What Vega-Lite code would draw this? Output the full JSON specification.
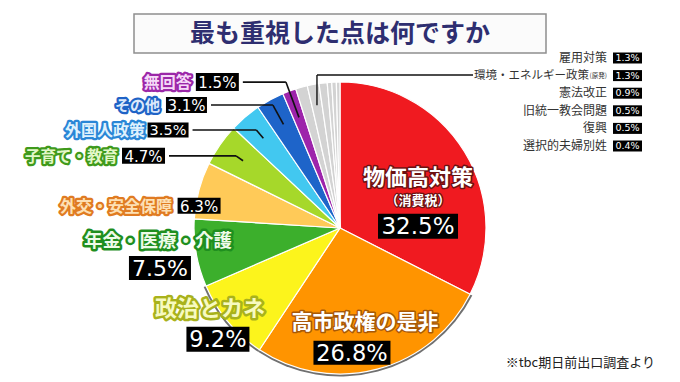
{
  "$schema": "https://vega.github.io/schema/vega-lite/v6.json",
  "background": "#ffffff",
  "padding": {"top": 13, "left": 0, "right": 0, "bottom": 0},
  "config": {"view": {"stroke": null}, "font": "Noto Sans CJK JP"},
  "spacing": 20,
  "bounds": "flush",
  "center": true,
  "vconcat": [
    {
      "width": 412,
      "height": 39,
      "view": {"fill": "#fbfbfb", "stroke": "#8f8f8f", "strokeWidth": 1.5},
      "data": {"values": [{"t": "最も重視した点は何ですか"}]},
      "mark": {"type": "text", "font": "Noto Sans CJK JP", "fontWeight": "bold", "fontSize": 25, "fill": "#2e2e70"},
      "encoding": {"text": {"field": "t", "type": "nominal"}}
    },
    {
      "width": 680,
      "height": 310,
      "data": {"values": [
        {"ord": 1, "name": "物価高対策", "sub": "（消費税）", "pct": 32.5},
        {"ord": 2, "name": "高市政権の是非", "pct": 26.8},
        {"ord": 3, "name": "政治とカネ", "pct": 9.2},
        {"ord": 4, "name": "年金・医療・介護", "pct": 7.5},
        {"ord": 5, "name": "外交・安全保障", "pct": 6.3},
        {"ord": 6, "name": "子育て・教育", "pct": 4.7},
        {"ord": 7, "name": "外国人政策", "pct": 3.5},
        {"ord": 8, "name": "その他", "pct": 3.1},
        {"ord": 9, "name": "無回答", "pct": 1.5},
        {"ord": 10, "name": "雇用対策", "pct": 1.3},
        {"ord": 11, "name": "環境・エネルギー政策", "note": "(原発)", "pct": 1.3},
        {"ord": 12, "name": "憲法改正", "pct": 0.9},
        {"ord": 13, "name": "旧統一教会問題", "pct": 0.5},
        {"ord": 14, "name": "復興", "pct": 0.5},
        {"ord": 15, "name": "選択的夫婦別姓", "pct": 0.4, "source": "※tbc期日前出口調査より"}
      ]},
      "transform": [
        {"window": [{"op": "sum", "field": "pct", "as": "cum"}], "sort": [{"field": "ord", "order": "ascending"}], "frame": [null, 0]},
        {"calculate": "format(datum.pct, '.1f') + '%'", "as": "pctLabel"},
        {"calculate": "2 * PI * (datum.cum - datum.pct / 2) / 100", "as": "mid"},
        {"calculate": "datum.ord <= 9 ? [91.5, 98, 165, 165, 165, 165, 165, 165, 165][datum.ord - 1] : 0", "as": "br"},
        {"calculate": "datum.ord <= 9 ? datum.br * sin(datum.mid) + [0, -13, 4.4, -17.5, 18.5, -60.9, -64.8, -74.5, -65.3][datum.ord - 1] : 0", "as": "bx"},
        {"calculate": "datum.ord <= 9 ? -datum.br * cos(datum.mid) + [47, 31, 6.4, 12.6, 21.4, 22.9, 28.5, 22.9, 9.8][datum.ord - 1] - 1 : 0", "as": "by"},
        {"calculate": "datum.ord <= 9 ? [80, 77, 63, 62, 43, 43, 41, 41, 43][datum.ord - 1] : 0", "as": "bw"},
        {"calculate": "datum.ord <= 9 ? [25, 24, 25, 24, 16, 16, 15, 16, 18][datum.ord - 1] : 0", "as": "bh"},
        {"calculate": "datum.bx - datum.bw / 2", "as": "bx1"},
        {"calculate": "datum.bx + datum.bw / 2", "as": "bx2"},
        {"calculate": "datum.by - datum.bh / 2", "as": "by1"},
        {"calculate": "datum.by + datum.bh / 2", "as": "by2"},
        {"calculate": "118 * sin(datum.mid)", "as": "ex"},
        {"calculate": "-118 * cos(datum.mid)", "as": "ey"},
        {"calculate": "datum.ex + (datum.by - datum.ey) / (-cos(datum.mid)) * sin(datum.mid)", "as": "elx"},
        {"calculate": "datum.bx2 + 4", "as": "hx"},
        {"calculate": "125 * sin(datum.mid)", "as": "gx"},
        {"calculate": "-125 * cos(datum.mid)", "as": "gy"}
      ],
      "resolve": {"scale": {"y": "independent"}},
      "layer": [
        {"mark": {"type": "arc", "outerRadius": 148.5, "fill": "#707070"},
         "encoding": {
           "theta": {"field": "pct", "type": "quantitative", "stack": true},
           "order": {"field": "ord", "type": "quantitative"},
           "opacity": {"condition": {"test": "datum.ord >= 2 && datum.ord <= 3", "value": 1}, "value": 0}}},
        {"mark": {"type": "arc", "outerRadius": 146, "stroke": "#ffffff", "strokeWidth": 1.2},
         "encoding": {
           "theta": {"field": "pct", "type": "quantitative", "stack": true},
           "order": {"field": "ord", "type": "quantitative"},
           "color": {"field": "name", "type": "nominal", "legend": null,
             "scale": {"domain": ["物価高対策", "高市政権の是非", "政治とカネ", "年金・医療・介護", "外交・安全保障", "子育て・教育", "外国人政策", "その他", "無回答", "雇用対策", "環境・エネルギー政策", "憲法改正", "旧統一教会問題", "復興", "選択的夫婦別姓"],
                       "range": ["#f01a20", "#ff9400", "#fcf41c", "#3caf2c", "#ffca58", "#a6d82a", "#42c8f0", "#1e64c9", "#9d24ab", "#d3d3d3", "#d3d3d3", "#d3d3d3", "#d3d3d3", "#d3d3d3", "#d3d3d3"]}}}},

        {"transform": [{"filter": "datum.ord >= 6 && datum.ord <= 9"}],
         "mark": {"type": "rule", "color": "#111111", "strokeWidth": 1.6},
         "encoding": {
           "x": {"field": "hx", "type": "quantitative", "scale": {"domain": [-340, 340], "nice": false, "zero": false}, "axis": null},
           "x2": {"field": "elx"},
           "y": {"field": "by", "type": "quantitative", "scale": {"domain": [-155, 155], "nice": false, "zero": false, "reverse": true}, "axis": null}}},
        {"transform": [{"filter": "datum.ord >= 6 && datum.ord <= 9"}],
         "mark": {"type": "rule", "color": "#111111", "strokeWidth": 1.6},
         "encoding": {
           "x": {"field": "elx", "type": "quantitative", "scale": {"domain": [-340, 340], "nice": false, "zero": false}, "axis": null},
           "x2": {"field": "ex"},
           "y": {"field": "by", "type": "quantitative", "scale": {"domain": [-155, 155], "nice": false, "zero": false, "reverse": true}, "axis": null},
           "y2": {"field": "ey"}}},
        {"transform": [{"filter": "datum.ord == 11"}],
         "mark": {"type": "rule", "color": "#111111", "strokeWidth": 1.4},
         "encoding": {
           "x": {"field": "gx", "type": "quantitative", "scale": {"domain": [-340, 340], "nice": false, "zero": false}, "axis": null},
           "y": {"field": "gy", "type": "quantitative", "scale": {"domain": [-155, 155], "nice": false, "zero": false, "reverse": true}, "axis": null},
           "y2": {"datum": -153}}},
        {"transform": [{"filter": "datum.ord == 11"}],
         "mark": {"type": "rule", "color": "#111111", "strokeWidth": 1.4},
         "encoding": {
           "x": {"field": "gx", "type": "quantitative", "scale": {"domain": [-340, 340], "nice": false, "zero": false}, "axis": null},
           "x2": {"datum": 133},
           "y": {"datum": -153, "type": "quantitative", "scale": {"domain": [-155, 155], "nice": false, "zero": false, "reverse": true}, "axis": null}}},

        {"transform": [{"filter": "datum.ord <= 9"}],
         "mark": {"type": "rect", "fill": "#000000"},
         "encoding": {
           "x": {"field": "bx1", "type": "quantitative", "scale": {"domain": [-340, 340], "nice": false, "zero": false}, "axis": null},
           "x2": {"field": "bx2"},
           "y": {"field": "by1", "type": "quantitative", "scale": {"domain": [-155, 155], "nice": false, "zero": false, "reverse": true}, "axis": null},
           "y2": {"field": "by2"}}},

        {"mark": {"type": "text", "radius": 91.5, "dy": -2, "font": "Noto Sans CJK JP", "fontWeight": "bold", "fontSize": 22, "fill": "#6b1212", "stroke": "#6b1212", "strokeWidth": 3, "strokeJoin": "round"},
         "encoding": {"theta": {"field": "pct", "type": "quantitative", "stack": true}, "order": {"field": "ord", "type": "quantitative"}, "text": {"condition": {"test": "datum.ord == 1", "field": "name", "type": "nominal"}, "value": ""}}},
        {"mark": {"type": "text", "radius": 91.5, "dy": -2, "font": "Noto Sans CJK JP", "fontWeight": "bold", "fontSize": 22, "fill": "#ffffff"},
         "encoding": {"theta": {"field": "pct", "type": "quantitative", "stack": true}, "order": {"field": "ord", "type": "quantitative"}, "text": {"condition": {"test": "datum.ord == 1", "field": "name", "type": "nominal"}, "value": ""}}},
        {"mark": {"type": "text", "radius": 91.5, "dy": 21, "font": "Noto Sans CJK JP", "fontWeight": "bold", "fontSize": 13, "fill": "#6b1212", "stroke": "#6b1212", "strokeWidth": 2.5, "strokeJoin": "round"},
         "encoding": {"theta": {"field": "pct", "type": "quantitative", "stack": true}, "order": {"field": "ord", "type": "quantitative"}, "text": {"condition": {"test": "datum.ord == 1", "field": "sub", "type": "nominal"}, "value": ""}}},
        {"mark": {"type": "text", "radius": 91.5, "dy": 21, "font": "Noto Sans CJK JP", "fontWeight": "bold", "fontSize": 13, "fill": "#ffffff"},
         "encoding": {"theta": {"field": "pct", "type": "quantitative", "stack": true}, "order": {"field": "ord", "type": "quantitative"}, "text": {"condition": {"test": "datum.ord == 1", "field": "sub", "type": "nominal"}, "value": ""}}},
        {"mark": {"type": "text", "radius": 91.5, "dy": 47, "font": "DejaVu Sans", "fontSize": 23, "fill": "#ffffff"},
         "encoding": {"theta": {"field": "pct", "type": "quantitative", "stack": true}, "order": {"field": "ord", "type": "quantitative"}, "text": {"condition": {"test": "datum.ord == 1", "field": "pctLabel", "type": "nominal"}, "value": ""}}},

        {"mark": {"type": "text", "radius": 98, "font": "Noto Sans CJK JP", "fontWeight": "bold", "fontSize": 21, "fill": "#a85808", "stroke": "#a85808", "strokeWidth": 3, "strokeJoin": "round"},
         "encoding": {"theta": {"field": "pct", "type": "quantitative", "stack": true}, "order": {"field": "ord", "type": "quantitative"}, "text": {"condition": {"test": "datum.ord == 2", "field": "name", "type": "nominal"}, "value": ""}}},
        {"mark": {"type": "text", "radius": 98, "font": "Noto Sans CJK JP", "fontWeight": "bold", "fontSize": 21, "fill": "#ffffff"},
         "encoding": {"theta": {"field": "pct", "type": "quantitative", "stack": true}, "order": {"field": "ord", "type": "quantitative"}, "text": {"condition": {"test": "datum.ord == 2", "field": "name", "type": "nominal"}, "value": ""}}},
        {"mark": {"type": "text", "radius": 98, "dx": -13, "dy": 31, "font": "DejaVu Sans", "fontSize": 22.5, "fill": "#ffffff"},
         "encoding": {"theta": {"field": "pct", "type": "quantitative", "stack": true}, "order": {"field": "ord", "type": "quantitative"}, "text": {"condition": {"test": "datum.ord == 2", "field": "pctLabel", "type": "nominal"}, "value": ""}}},

        {"mark": {"type": "text", "radius": 165, "dx": -3.6, "dy": -25.1, "font": "Noto Sans CJK JP", "fontWeight": "bold", "fontSize": 22, "fill": "#a9b21c", "stroke": "#a9b21c", "strokeWidth": 5, "strokeJoin": "round"},
         "encoding": {"theta": {"field": "pct", "type": "quantitative", "stack": true}, "order": {"field": "ord", "type": "quantitative"}, "text": {"condition": {"test": "datum.ord == 3", "field": "name", "type": "nominal"}, "value": ""}}},
        {"mark": {"type": "text", "radius": 165, "dx": -3.6, "dy": -25.1, "font": "Noto Sans CJK JP", "fontWeight": "bold", "fontSize": 22, "fill": "#f7fac0"},
         "encoding": {"theta": {"field": "pct", "type": "quantitative", "stack": true}, "order": {"field": "ord", "type": "quantitative"}, "text": {"condition": {"test": "datum.ord == 3", "field": "name", "type": "nominal"}, "value": ""}}},
        {"mark": {"type": "text", "radius": 165, "dx": 4.4, "dy": 6.4, "font": "DejaVu Sans", "fontSize": 22.5, "fill": "#ffffff"},
         "encoding": {"theta": {"field": "pct", "type": "quantitative", "stack": true}, "order": {"field": "ord", "type": "quantitative"}, "text": {"condition": {"test": "datum.ord == 3", "field": "pctLabel", "type": "nominal"}, "value": ""}}},

        {"mark": {"type": "text", "radius": 165, "dx": -19.5, "dy": -15.4, "font": "Noto Sans CJK JP", "fontWeight": "bold", "fontSize": 18.5, "fill": "#1f8f1f", "stroke": "#1f8f1f", "strokeWidth": 5, "strokeJoin": "round"},
         "encoding": {"theta": {"field": "pct", "type": "quantitative", "stack": true}, "order": {"field": "ord", "type": "quantitative"}, "text": {"condition": {"test": "datum.ord == 4", "field": "name", "type": "nominal"}, "value": ""}}},
        {"mark": {"type": "text", "radius": 165, "dx": -19.5, "dy": -15.4, "font": "Noto Sans CJK JP", "fontWeight": "bold", "fontSize": 18.5, "fill": "#eefbe9"},
         "encoding": {"theta": {"field": "pct", "type": "quantitative", "stack": true}, "order": {"field": "ord", "type": "quantitative"}, "text": {"condition": {"test": "datum.ord == 4", "field": "name", "type": "nominal"}, "value": ""}}},
        {"mark": {"type": "text", "radius": 165, "dx": -17.5, "dy": 12.6, "font": "DejaVu Sans", "fontSize": 22, "fill": "#ffffff"},
         "encoding": {"theta": {"field": "pct", "type": "quantitative", "stack": true}, "order": {"field": "ord", "type": "quantitative"}, "text": {"condition": {"test": "datum.ord == 4", "field": "pctLabel", "type": "nominal"}, "value": ""}}},

        {"mark": {"type": "text", "radius": 165, "dx": -8.5, "dy": 21.4, "align": "right", "font": "Noto Sans CJK JP", "fontWeight": "bold", "fontSize": 16, "fill": "#e07b22", "stroke": "#e07b22", "strokeWidth": 4.5, "strokeJoin": "round"},
         "encoding": {"theta": {"field": "pct", "type": "quantitative", "stack": true}, "order": {"field": "ord", "type": "quantitative"}, "text": {"condition": {"test": "datum.ord == 5", "field": "name", "type": "nominal"}, "value": ""}}},
        {"mark": {"type": "text", "radius": 165, "dx": -8.5, "dy": 21.4, "align": "right", "font": "Noto Sans CJK JP", "fontWeight": "bold", "fontSize": 16, "fill": "#fde0b4"},
         "encoding": {"theta": {"field": "pct", "type": "quantitative", "stack": true}, "order": {"field": "ord", "type": "quantitative"}, "text": {"condition": {"test": "datum.ord == 5", "field": "name", "type": "nominal"}, "value": ""}}},
        {"mark": {"type": "text", "radius": 165, "dx": 18.5, "dy": 21.4, "font": "DejaVu Sans", "fontSize": 15, "fill": "#ffffff"},
         "encoding": {"theta": {"field": "pct", "type": "quantitative", "stack": true}, "order": {"field": "ord", "type": "quantitative"}, "text": {"condition": {"test": "datum.ord == 5", "field": "pctLabel", "type": "nominal"}, "value": ""}}},

        {"mark": {"type": "text", "radius": 165, "dx": -86.4, "dy": 22.9, "align": "right", "font": "Noto Sans CJK JP", "fontWeight": "bold", "fontSize": 15.5, "fill": "#3f9a1c", "stroke": "#3f9a1c", "strokeWidth": 4.5, "strokeJoin": "round"},
         "encoding": {"theta": {"field": "pct", "type": "quantitative", "stack": true}, "order": {"field": "ord", "type": "quantitative"}, "text": {"condition": {"test": "datum.ord == 6", "field": "name", "type": "nominal"}, "value": ""}}},
        {"mark": {"type": "text", "radius": 165, "dx": -86.4, "dy": 22.9, "align": "right", "font": "Noto Sans CJK JP", "fontWeight": "bold", "fontSize": 15.5, "fill": "#e3f7c8"},
         "encoding": {"theta": {"field": "pct", "type": "quantitative", "stack": true}, "order": {"field": "ord", "type": "quantitative"}, "text": {"condition": {"test": "datum.ord == 6", "field": "name", "type": "nominal"}, "value": ""}}},
        {"mark": {"type": "text", "radius": 165, "dx": -60.9, "dy": 22.9, "font": "DejaVu Sans", "fontSize": 15, "fill": "#ffffff"},
         "encoding": {"theta": {"field": "pct", "type": "quantitative", "stack": true}, "order": {"field": "ord", "type": "quantitative"}, "text": {"condition": {"test": "datum.ord == 6", "field": "pctLabel", "type": "nominal"}, "value": ""}}},

        {"mark": {"type": "text", "radius": 165, "dx": -87.8, "dy": 28.5, "align": "right", "font": "Noto Sans CJK JP", "fontWeight": "bold", "fontSize": 16, "fill": "#2a86d6", "stroke": "#2a86d6", "strokeWidth": 4.5, "strokeJoin": "round"},
         "encoding": {"theta": {"field": "pct", "type": "quantitative", "stack": true}, "order": {"field": "ord", "type": "quantitative"}, "text": {"condition": {"test": "datum.ord == 7", "field": "name", "type": "nominal"}, "value": ""}}},
        {"mark": {"type": "text", "radius": 165, "dx": -87.8, "dy": 28.5, "align": "right", "font": "Noto Sans CJK JP", "fontWeight": "bold", "fontSize": 16, "fill": "#dff1fd"},
         "encoding": {"theta": {"field": "pct", "type": "quantitative", "stack": true}, "order": {"field": "ord", "type": "quantitative"}, "text": {"condition": {"test": "datum.ord == 7", "field": "name", "type": "nominal"}, "value": ""}}},
        {"mark": {"type": "text", "radius": 165, "dx": -64.8, "dy": 28.5, "font": "DejaVu Sans", "fontSize": 14.5, "fill": "#ffffff"},
         "encoding": {"theta": {"field": "pct", "type": "quantitative", "stack": true}, "order": {"field": "ord", "type": "quantitative"}, "text": {"condition": {"test": "datum.ord == 7", "field": "pctLabel", "type": "nominal"}, "value": ""}}},

        {"mark": {"type": "text", "radius": 165, "dx": -101, "dy": 22.9, "align": "right", "font": "Noto Sans CJK JP", "fontWeight": "bold", "fontSize": 15, "fill": "#1f63c6", "stroke": "#1f63c6", "strokeWidth": 4.5, "strokeJoin": "round"},
         "encoding": {"theta": {"field": "pct", "type": "quantitative", "stack": true}, "order": {"field": "ord", "type": "quantitative"}, "text": {"condition": {"test": "datum.ord == 8", "field": "name", "type": "nominal"}, "value": ""}}},
        {"mark": {"type": "text", "radius": 165, "dx": -101, "dy": 22.9, "align": "right", "font": "Noto Sans CJK JP", "fontWeight": "bold", "fontSize": 15, "fill": "#dbe8fb"},
         "encoding": {"theta": {"field": "pct", "type": "quantitative", "stack": true}, "order": {"field": "ord", "type": "quantitative"}, "text": {"condition": {"test": "datum.ord == 8", "field": "name", "type": "nominal"}, "value": ""}}},
        {"mark": {"type": "text", "radius": 165, "dx": -74.5, "dy": 22.9, "font": "DejaVu Sans", "fontSize": 15, "fill": "#ffffff"},
         "encoding": {"theta": {"field": "pct", "type": "quantitative", "stack": true}, "order": {"field": "ord", "type": "quantitative"}, "text": {"condition": {"test": "datum.ord == 8", "field": "pctLabel", "type": "nominal"}, "value": ""}}},

        {"mark": {"type": "text", "radius": 165, "dx": -90.8, "dy": 9.8, "align": "right", "font": "Noto Sans CJK JP", "fontWeight": "bold", "fontSize": 16, "fill": "#9b27a8", "stroke": "#9b27a8", "strokeWidth": 4.5, "strokeJoin": "round"},
         "encoding": {"theta": {"field": "pct", "type": "quantitative", "stack": true}, "order": {"field": "ord", "type": "quantitative"}, "text": {"condition": {"test": "datum.ord == 9", "field": "name", "type": "nominal"}, "value": ""}}},
        {"mark": {"type": "text", "radius": 165, "dx": -90.8, "dy": 9.8, "align": "right", "font": "Noto Sans CJK JP", "fontWeight": "bold", "fontSize": 16, "fill": "#f6d9f8"},
         "encoding": {"theta": {"field": "pct", "type": "quantitative", "stack": true}, "order": {"field": "ord", "type": "quantitative"}, "text": {"condition": {"test": "datum.ord == 9", "field": "name", "type": "nominal"}, "value": ""}}},
        {"mark": {"type": "text", "radius": 165, "dx": -65.3, "dy": 9.8, "font": "DejaVu Sans", "fontSize": 15, "fill": "#ffffff"},
         "encoding": {"theta": {"field": "pct", "type": "quantitative", "stack": true}, "order": {"field": "ord", "type": "quantitative"}, "text": {"condition": {"test": "datum.ord == 9", "field": "pctLabel", "type": "nominal"}, "value": ""}}},

        {"transform": [{"filter": "datum.ord >= 10"}],
         "mark": {"type": "text", "align": "right", "dx": 267, "font": "Noto Sans CJK JP", "fontSize": 12, "fill": "#333333"},
         "encoding": {
           "y": {"field": "name", "type": "nominal", "sort": {"field": "ord", "op": "min"}, "scale": {"type": "point", "range": [-15, 73], "padding": 0}, "axis": null},
           "text": {"condition": {"test": "datum.ord != 11", "field": "name", "type": "nominal"}, "value": ""}}},
        {"transform": [{"filter": "datum.ord >= 10"}],
         "mark": {"type": "text", "align": "right", "dx": 249, "font": "Noto Sans CJK JP", "fontSize": 11.5, "fill": "#333333"},
         "encoding": {
           "y": {"field": "name", "type": "nominal", "sort": {"field": "ord", "op": "min"}, "scale": {"type": "point", "range": [-15, 73], "padding": 0}, "axis": null},
           "text": {"condition": {"test": "datum.ord == 11", "field": "name", "type": "nominal"}, "value": ""}}},
        {"transform": [{"filter": "datum.ord >= 10"}],
         "mark": {"type": "text", "align": "right", "dx": 267, "font": "Noto Sans CJK JP", "fontSize": 6.5, "fill": "#333333"},
         "encoding": {
           "y": {"field": "name", "type": "nominal", "sort": {"field": "ord", "op": "min"}, "scale": {"type": "point", "range": [-15, 73], "padding": 0}, "axis": null},
           "text": {"condition": {"test": "datum.ord == 11", "field": "note", "type": "nominal"}, "value": ""}}},
        {"transform": [{"filter": "datum.ord >= 10"}],
         "mark": {"type": "point", "shape": "M-14.5,-5.5H14.5V5.5H-14.5Z", "size": 4, "filled": true, "fill": "#000000", "opacity": 1, "strokeWidth": 0},
         "encoding": {
           "x": {"datum": 287.5, "type": "quantitative", "scale": {"domain": [-340, 340], "nice": false, "zero": false}, "axis": null},
           "y": {"field": "name", "type": "nominal", "sort": {"field": "ord", "op": "min"}, "scale": {"type": "point", "range": [-15, 73], "padding": 0}, "axis": null}}},
        {"transform": [{"filter": "datum.ord >= 10"}],
         "mark": {"type": "text", "dx": 287.5, "font": "DejaVu Sans", "fontSize": 9.5, "fill": "#ffffff"},
         "encoding": {
           "y": {"field": "name", "type": "nominal", "sort": {"field": "ord", "op": "min"}, "scale": {"type": "point", "range": [-15, 73], "padding": 0}, "axis": null},
           "text": {"field": "pctLabel", "type": "nominal"}}},

        {"transform": [{"filter": "datum.ord == 15"}],
         "mark": {"type": "text", "align": "right", "font": "Noto Sans CJK JP", "fontSize": 13, "fill": "#222222"},
         "encoding": {
           "x": {"datum": 315, "type": "quantitative", "scale": {"domain": [-340, 340], "nice": false, "zero": false}, "axis": null},
           "y": {"datum": 135, "type": "quantitative", "scale": {"domain": [-155, 155], "nice": false, "zero": false, "reverse": true}, "axis": null},
           "text": {"field": "source", "type": "nominal"}}}
      ]
    }
  ]
}
